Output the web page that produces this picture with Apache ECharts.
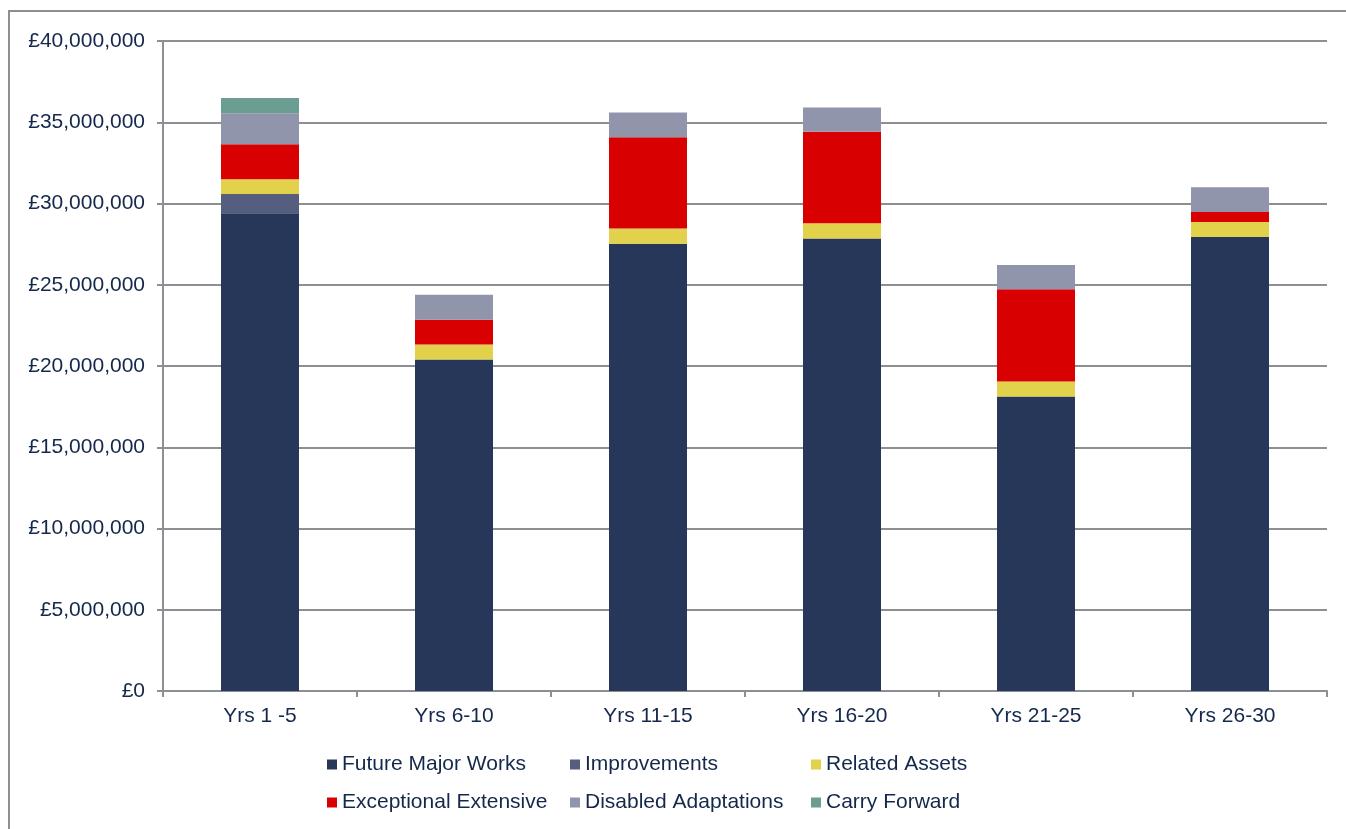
<!DOCTYPE html>
<html>
<head>
<meta charset="utf-8">
<script src="https://cdn.jsdelivr.net/npm/echarts@6/dist/echarts.min.js"></script>
<style>
  html, body { margin: 0; padding: 0; background: #fff; }
  #chart { width: 1346px; height: 829px; }
</style>
</head>
<body>
<div id="chart"></div>
<script>
  // periods
  var categories = ["Yrs 1 -5", "Yrs 6-10", "Yrs 11-15", "Yrs 16-20", "Yrs 21-25", "Yrs 26-30"];

  // values in £
  var futureMajorWorks = [29400000, 20400000, 27530000, 27840000, 18120000, 27940000];
  var improvements = [1190000, 0, 0, 0, 0, 0];
  var relatedAssets = [900000, 930000, 930000, 940000, 920000, 920000];
  var exceptionalExtensive = [2160000, 1520000, 5620000, 5630000, 5680000, 620000];
  var disabledAdaptations = [1910000, 1540000, 1520000, 1500000, 1490000, 1520000];
  var carryForward = [930000, 0, 0, 0, 0, 0];

  var yTicks = { min: 0, max: 40000000, interval: 5000000 };

  var seriesDefs = [
    { name: "Future Major Works", data: futureMajorWorks, color: "#263759" },
    { name: "Improvements", data: improvements, color: "#555E7F" },
    { name: "Related Assets", data: relatedAssets, color: "#E1D14B" },
    { name: "Exceptional Extensive", data: exceptionalExtensive, color: "#D80000" },
    { name: "Disabled Adaptations", data: disabledAdaptations, color: "#9095AB" },
    { name: "Carry Forward", data: carryForward, color: "#6C9D93" }
  ];

  var textColor = "#14284B";
  var lineColor = "#8C8F94";
  var font = "'Liberation Sans', Arial, sans-serif";

  // legend spots: 3 columns x 2 rows
  var legendPos = [
    { left: 327, top: 754 }, { left: 570, top: 754 }, { left: 811, top: 754 },
    { left: 327, top: 792 }, { left: 570, top: 792 }, { left: 811, top: 792 }
  ];

  var chart = echarts.init(document.getElementById("chart"), null, { renderer: "canvas" });

  chart.setOption({
    animation: false,
    backgroundColor: "#fff",
    graphic: [{
      type: "rect",
      shape: { x: 9, y: 11, width: 1400, height: 900 },
      style: { fill: "none", stroke: lineColor, lineWidth: 2 },
      silent: true
    }],
    grid: { left: 163, right: 19, top: 41, bottom: 138 },
    legend: seriesDefs.map(function (s, i) {
      return {
        data: [s.name],
        left: legendPos[i].left,
        top: legendPos[i].top,
        icon: "rect",
        itemWidth: 10,
        itemHeight: 10,
        itemGap: 0,
        padding: 0,
        textStyle: { color: textColor, fontSize: 21, fontFamily: font, padding: [0, 0, 0, 0] }
      };
    }),
    xAxis: {
      type: "category",
      data: categories,
      axisLine: { lineStyle: { color: lineColor, width: 2 } },
      axisTick: { show: true, alignWithLabel: false, length: 6, lineStyle: { color: lineColor, width: 2 } },
      axisLabel: { color: textColor, fontSize: 21, fontFamily: font, margin: 15 }
    },
    yAxis: {
      type: "value",
      min: yTicks.min,
      max: yTicks.max,
      interval: yTicks.interval,
      axisLine: { show: true, lineStyle: { color: lineColor, width: 2 } },
      axisTick: { show: true, length: 6, lineStyle: { color: lineColor, width: 2 } },
      splitLine: { lineStyle: { color: lineColor, width: 2 } },
      axisLabel: {
        color: textColor, fontSize: 21, fontFamily: font, margin: 18,
        formatter: function (v) { return "£" + v.toLocaleString("en-GB"); }
      }
    },
    series: seriesDefs.map(function (s) {
      return {
        name: s.name,
        type: "bar",
        stack: "total",
        barWidth: 78,
        data: s.data,
        itemStyle: { color: s.color }
      };
    })
  });
</script>
</body>
</html>
